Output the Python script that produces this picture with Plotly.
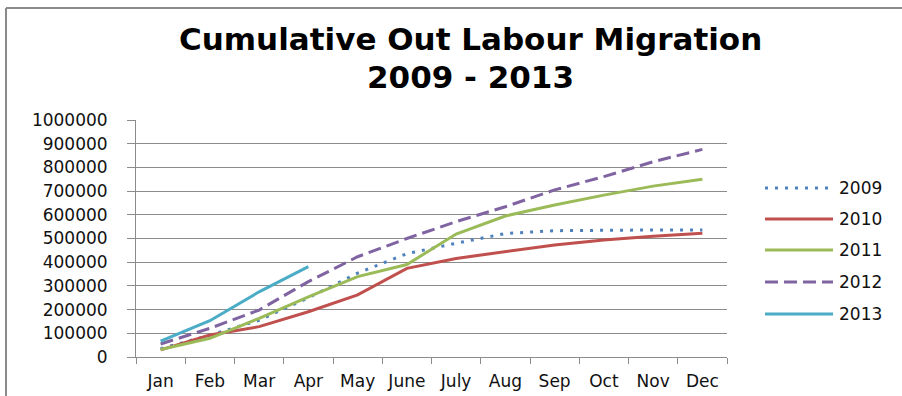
import plotly.graph_objects as go

# Monthly cumulative out-migration figures, by year
months = ["Jan", "Feb", "Mar", "Apr", "May", "June", "July", "Aug", "Sep", "Oct", "Nov", "Dec"]
y2009 = [35000, 92000, 155000, 250000, 354000, 436000, 480000, 521000, 533000, 536000, 536000, 536000]
y2010 = [30000, 93000, 128000, 191000, 262000, 374000, 416000, 444000, 473000, 494000, 510000, 522000]
y2011 = [32000, 79000, 163000, 254000, 339000, 390000, 519000, 595000, 641000, 683000, 721000, 750000]
y2012 = [55000, 121000, 198000, 318000, 423000, 500000, 571000, 634000, 705000, 761000, 824000, 876000]
y2013 = [67000, 153000, 275000, 381000]
title_lines = ["Cumulative Out Labour Migration", "2009 - 2013"]

series = [
    ("2009", y2009, "#4F81BD", "3px,7px"),
    ("2010", y2010, "#C0504D", "solid"),
    ("2011", y2011, "#9BBB59", "solid"),
    ("2012", y2012, "#8064A2", "13px,6px"),
    ("2013", y2013, "#4BACC6", "solid"),
]

W, H = 902, 396
L, R, T, B = 136, 727, 120, 357  # plot area in pixels


def px(x):
    return (x - L) / (R - L)


def py(y):
    return (B - y) / (B - T)


fig = go.Figure()
for name, vals, color, dash in series:
    fig.add_trace(go.Scatter(
        x=months[:len(vals)], y=vals, mode="lines", name=name,
        line=dict(color=color, width=3, dash=dash),
        showlegend=False,
    ))

shapes = [
    # chart frame (top and left edges)
    dict(type="line", xref="paper", yref="paper", x0=px(6), x1=px(W + 5), y0=py(8), y1=py(8),
         line=dict(color="#8a8a8a", width=2)),
    dict(type="line", xref="paper", yref="paper", x0=px(6), x1=px(6), y0=py(8), y1=py(H + 5),
         line=dict(color="#8a8a8a", width=2)),
]
annotations = []
for text, yc in zip(title_lines, [39, 77]):
    annotations.append(dict(text=f"<b>{text}</b>", xref="paper", yref="paper",
                            x=px(470), y=py(yc), xanchor="center", yanchor="middle",
                            showarrow=False,
                            font=dict(family="DejaVu Sans", size=31, color="#000000")))

legend_rows = [188, 219, 250, 282, 314]
for (name, vals, color, dash), yrow in zip(series, legend_rows):
    shapes.append(dict(type="line", xref="paper", yref="paper",
                       x0=px(765), x1=px(833), y0=py(yrow), y1=py(yrow),
                       line=dict(color=color, width=3, dash=dash)))
    annotations.append(dict(text=name, xref="paper", yref="paper", x=px(837), y=py(yrow),
                            xanchor="left", yanchor="middle", showarrow=False,
                            font=dict(family="DejaVu Sans", size=17, color="#111111")))

fig.update_layout(
    width=W, height=H,
    margin=dict(l=L, r=W - R, t=T, b=H - B),
    paper_bgcolor="white", plot_bgcolor="white",
    shapes=shapes, annotations=annotations,
    xaxis=dict(type="category", categoryorder="array", categoryarray=months,
               range=[-0.5, 11.5], showgrid=False, showline=True, linecolor="#8c8c8c",
               linewidth=1, ticks="outside", tickson="boundaries", ticklen=6,
               tickcolor="#8c8c8c", ticklabelstandoff=9, automargin=False,
               tickfont=dict(family="DejaVu Sans", size=17, color="#111111")),
    yaxis=dict(range=[0, 1000000], dtick=100000, tickformat="d", showgrid=True,
               gridcolor="#8c8c8c", gridwidth=1, showline=True, linecolor="#8c8c8c",
               linewidth=1, ticks="outside", ticklen=8, tickcolor="#8c8c8c",
               ticklabelstandoff=16, zeroline=False, automargin=False,
               tickfont=dict(family="DejaVu Sans", size=17, color="#111111")),
)

fig.write_html("out.html")
